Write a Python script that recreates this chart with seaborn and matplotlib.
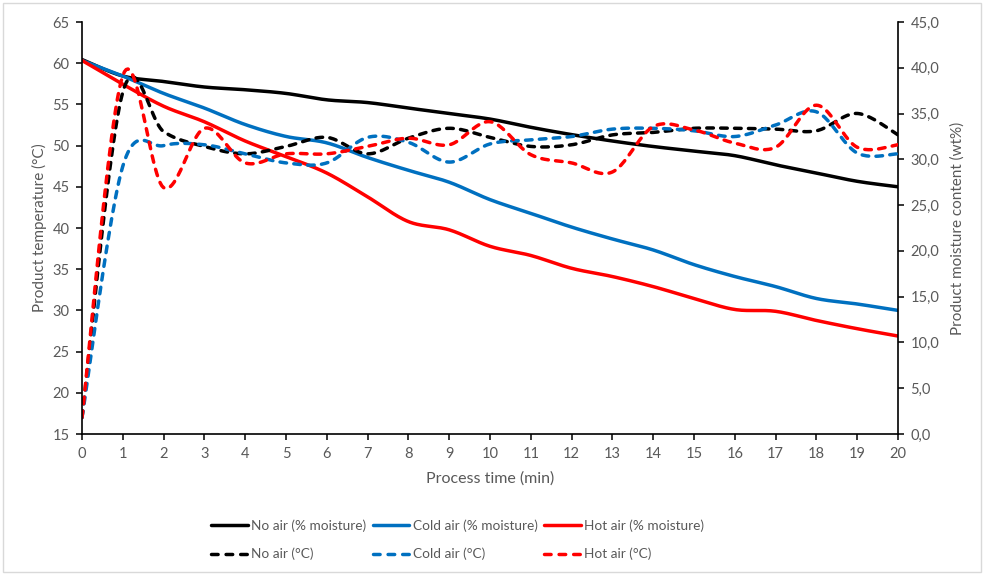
import numpy as np
import matplotlib
matplotlib.use("Agg")
import matplotlib.pyplot as plt
import seaborn as sns
from matplotlib.ticker import FuncFormatter, MultipleLocator
from matplotlib.lines import Line2D
from matplotlib.patches import Rectangle

# ---- data ----
time_min = list(range(0, 21))

# product moisture content (wt%) - right axis, solid lines
no_air_moist = [40.9, 39.1, 38.5, 37.9, 37.6, 37.2, 36.5, 36.2, 35.6, 35.0, 34.4,
                33.5, 32.7, 32.0, 31.4, 30.9, 30.4, 29.4, 28.5, 27.6, 27.0]
cold_air_moist = [40.8, 39.1, 37.2, 35.6, 33.8, 32.5, 31.8, 30.2, 28.8, 27.5, 25.6,
                  24.1, 22.6, 21.3, 20.1, 18.5, 17.2, 16.1, 14.8, 14.2, 13.5]
hot_air_moist = [40.8, 38.2, 35.8, 34.1, 32.0, 30.3, 28.5, 25.9, 23.2, 22.3, 20.5,
                 19.5, 18.1, 17.2, 16.1, 14.8, 13.6, 13.4, 12.4, 11.5, 10.7]

# product temperature (°C) - left axis, dashed lines
no_air_temp = [17.0, 56.5, 51.7, 49.9, 49.0, 49.9, 51.0, 49.0, 50.9, 52.1, 51.0,
               49.9, 50.1, 51.3, 51.6, 52.1, 52.1, 52.0, 51.8, 53.9, 51.3]
cold_air_temp = [17.0, 47.5, 50.0, 50.1, 49.0, 47.9, 47.9, 51.0, 50.4, 48.0, 50.2,
                 50.7, 51.1, 52.0, 52.1, 51.8, 51.1, 52.5, 54.1, 49.1, 49.0]
hot_air_temp = [17.0, 58.5, 44.9, 52.1, 47.9, 49.0, 49.0, 49.9, 50.9, 50.1, 52.9,
                48.9, 47.9, 46.8, 52.3, 51.9, 50.3, 49.8, 54.9, 49.8, 50.1]

labels_moist = ["No air (% moisture)", "Cold air (% moisture)", "Hot air (% moisture)"]
labels_temp = ["No air (°C)", "Cold air (°C)", "Hot air (°C)"]
colors = ["#000000", "#0070C0", "#FF0000"]


def smooth(x, y, n=24):
    """Excel-style smoothed line (cubic Bezier through the points)."""
    x = np.asarray(x, float)
    y = np.asarray(y, float)
    px = np.concatenate([[x[0]], x, [x[-1]]])
    py = np.concatenate([[y[0]], y, [y[-1]]])
    xs, ys = [], []
    t = np.linspace(0, 1, n, endpoint=False)
    for i in range(len(x) - 1):
        x0, x1, x2, x3 = px[i:i + 4]
        y0, y1, y2, y3 = py[i:i + 4]
        cx1, cy1 = x1 + (x2 - x0) / 6, y1 + (y2 - y0) / 6
        cx2, cy2 = x2 - (x3 - x1) / 6, y2 - (y3 - y1) / 6
        b0, b1, b2, b3 = (1 - t) ** 3, 3 * (1 - t) ** 2 * t, 3 * (1 - t) * t ** 2, t ** 3
        xs.append(b0 * x1 + b1 * cx1 + b2 * cx2 + b3 * x2)
        ys.append(b0 * y1 + b1 * cy1 + b2 * cy2 + b3 * y2)
    xs.append([x[-1]])
    ys.append([y[-1]])
    return np.concatenate(xs), np.concatenate(ys)


sns.set_theme(style="white")
plt.rcParams["font.family"] = ["Lato", "DejaVu Sans"]

gray = "#595959"
fig = plt.figure(figsize=(9.84, 5.75), dpi=100)
ax = fig.add_axes([82 / 984, 1 - 434 / 575, (898 - 82) / 984, (434 - 22) / 575])
ax2 = ax.twinx()

lw = 2.5
dash = (0, (1.9, 2.1))

for ys, c in zip([no_air_moist, cold_air_moist, hot_air_moist], colors):
    sx, sy = smooth(time_min, ys)
    sns.lineplot(x=sx, y=sy, ax=ax2, color=c, linewidth=lw, sort=False,
                 estimator=None, solid_capstyle="round")

for ys, c in zip([no_air_temp, cold_air_temp, hot_air_temp], colors):
    sx, sy = smooth(time_min, ys)
    sns.lineplot(x=sx, y=sy, ax=ax, color=c, linewidth=lw, sort=False,
                 estimator=None, linestyle=dash, dash_capstyle="round")

ax.set_zorder(ax2.get_zorder() + 1)
ax.patch.set_visible(False)

ax.set_xlim(0, 20)
ax.set_ylim(15, 65)
ax2.set_ylim(0, 45)
ax.xaxis.set_major_locator(MultipleLocator(1))
ax.yaxis.set_major_locator(MultipleLocator(5))
ax2.yaxis.set_major_locator(MultipleLocator(5))
ax2.yaxis.set_major_formatter(FuncFormatter(lambda v, p: f"{v:.1f}".replace(".", ",")))

for a in (ax, ax2):
    for s in a.spines.values():
        s.set_visible(False)
    a.grid(False)
ax.spines["left"].set_visible(True)
ax.spines["bottom"].set_visible(True)
ax2.spines["right"].set_visible(True)
for s in (ax.spines["left"], ax.spines["bottom"], ax2.spines["right"]):
    s.set_color("#000000")
    s.set_linewidth(1.2)

ax.tick_params(axis="both", which="major", direction="out", length=4, width=1.1,
               color="#000000", labelcolor=gray, labelsize=10.5, pad=5,
               left=True, bottom=True)
ax2.tick_params(axis="y", which="major", direction="out", length=4, width=1.1,
                color="#000000", labelcolor=gray, labelsize=10.5, pad=5, right=True)

ax.set_xlabel("Process time (min)", color=gray, fontsize=11.5, labelpad=8)
ax.set_ylabel("Product temperature (°C)", color=gray, fontsize=11, labelpad=4)
ax2.set_ylabel("Product moisture content (wt%)", color=gray, fontsize=11,
               labelpad=8, rotation=90)

handles, labels = [], []
for lm, lt, c in zip(labels_moist, labels_temp, colors):
    handles.append(Line2D([], [], color=c, linewidth=lw, solid_capstyle="round"))
    labels.append(lm)
    handles.append(Line2D([], [], color=c, linewidth=lw, linestyle=(0, (1.9, 2.3)),
                          dash_capstyle="round"))
    labels.append(lt)

leg = fig.legend(handles, labels, loc="center", bbox_to_anchor=(0.465, 1 - 540 / 575),
                 ncol=3, frameon=False, fontsize=9.8, handlelength=2.7,
                 handletextpad=0.25, columnspacing=0.45, labelspacing=1.15)
for t in leg.get_texts():
    t.set_color(gray)

fig.patches.append(Rectangle((3 / 984, 3 / 575), 978 / 984, 569 / 575,
                             transform=fig.transFigure, fill=False,
                             edgecolor="#D9D9D9", linewidth=1.0))

fig.savefig("out.png", dpi=100)
